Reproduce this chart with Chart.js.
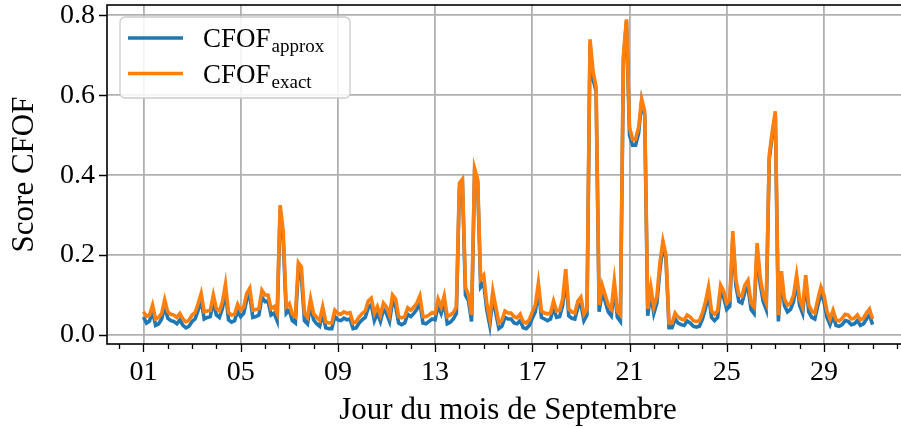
<!DOCTYPE html>
<html>
<head>
<meta charset="utf-8">
<script src="https://cdn.jsdelivr.net/npm/chart.js@4.4.1/dist/chart.umd.min.js"></script>
<style>
  html, body { margin: 0; padding: 0; background: #fff; overflow: hidden; }
  #wrap { position: relative; width: 912px; height: 429px; }
</style>
</head>
<body>
<div id="wrap"><canvas id="cfof-chart" width="912" height="429"></canvas></div>
<script>
// One sample every 3 hours, 1 Sept 00:00 -> 1 Oct 00:00 (x in days since 1 Sept)
const SAMPLES_PER_DAY = 8;

// CFOF exact (orange), one row per day
const cfofExact = [
  0.058, 0.047, 0.05, 0.075, 0.04, 0.044, 0.054, 0.088,
  0.058, 0.052, 0.05, 0.044, 0.054, 0.04, 0.033, 0.037,
  0.05, 0.056, 0.079, 0.104, 0.058, 0.06, 0.062, 0.1,
  0.066, 0.06, 0.083, 0.127, 0.056, 0.05, 0.052, 0.077,
  0.062, 0.07, 0.104, 0.117, 0.062, 0.064, 0.066, 0.112,
  0.1, 0.1, 0.066, 0.071, 0.054, 0.325, 0.26, 0.071,
  0.079, 0.052, 0.046, 0.181, 0.17, 0.054, 0.044, 0.091,
  0.054, 0.044, 0.037, 0.071, 0.033, 0.03, 0.03, 0.062,
  0.054, 0.052, 0.058, 0.054, 0.056, 0.03, 0.033, 0.045,
  0.054, 0.06, 0.085, 0.092, 0.054, 0.071, 0.05, 0.08,
  0.07, 0.05, 0.1, 0.09, 0.046, 0.043, 0.046, 0.068,
  0.062, 0.07, 0.08, 0.098, 0.046, 0.046, 0.05, 0.056,
  0.054, 0.09, 0.07, 0.098, 0.046, 0.05, 0.056, 0.07,
  0.38, 0.39, 0.12, 0.1, 0.05, 0.417, 0.39, 0.14,
  0.15, 0.08, 0.04, 0.11, 0.07, 0.03, 0.037, 0.06,
  0.055, 0.055, 0.046, 0.043, 0.052, 0.033, 0.03, 0.038,
  0.058, 0.075, 0.13, 0.06, 0.055, 0.053, 0.055, 0.085,
  0.06, 0.062, 0.09, 0.165, 0.065, 0.058, 0.055, 0.085,
  0.095, 0.052, 0.065, 0.74, 0.66, 0.62, 0.075, 0.125,
  0.1, 0.075, 0.065, 0.135, 0.06, 0.05, 0.7, 0.79,
  0.52, 0.49, 0.49, 0.52, 0.59, 0.56, 0.065, 0.12,
  0.07, 0.096, 0.18, 0.235, 0.2, 0.03, 0.03, 0.055,
  0.045, 0.04, 0.038, 0.05, 0.045, 0.036, 0.034, 0.036,
  0.055, 0.083, 0.12, 0.06, 0.052, 0.06, 0.125, 0.11,
  0.08, 0.088, 0.26, 0.14, 0.1, 0.097, 0.125, 0.137,
  0.08, 0.07, 0.23, 0.145, 0.1, 0.08, 0.45, 0.51,
  0.56, 0.05, 0.16, 0.09, 0.075, 0.08, 0.1, 0.15,
  0.09, 0.07, 0.15, 0.075, 0.06, 0.055, 0.09, 0.12,
  0.1, 0.06, 0.04, 0.062, 0.038, 0.035, 0.042, 0.052,
  0.05, 0.04, 0.042, 0.05, 0.038, 0.042, 0.055, 0.065,
  0.04
];

// CFOF approx (blue), sits a bit under the exact one
const cfofApprox = [
  0.045, 0.03, 0.035, 0.06, 0.024, 0.028, 0.04, 0.072,
  0.042, 0.036, 0.034, 0.028, 0.038, 0.024, 0.018, 0.022,
  0.034, 0.04, 0.062, 0.088, 0.04, 0.044, 0.046, 0.084,
  0.05, 0.044, 0.066, 0.11, 0.038, 0.032, 0.036, 0.06,
  0.046, 0.054, 0.088, 0.1, 0.044, 0.046, 0.05, 0.095,
  0.084, 0.085, 0.05, 0.055, 0.036, 0.315, 0.24, 0.054,
  0.062, 0.036, 0.03, 0.165, 0.145, 0.036, 0.028, 0.075,
  0.038, 0.028, 0.022, 0.055, 0.018, 0.016, 0.016, 0.046,
  0.038, 0.036, 0.042, 0.038, 0.04, 0.016, 0.018, 0.03,
  0.038, 0.044, 0.068, 0.076, 0.036, 0.055, 0.034, 0.064,
  0.054, 0.034, 0.084, 0.072, 0.03, 0.026, 0.03, 0.052,
  0.046, 0.054, 0.064, 0.082, 0.03, 0.028, 0.034, 0.04,
  0.038, 0.074, 0.054, 0.082, 0.028, 0.032, 0.04, 0.054,
  0.365, 0.38, 0.1, 0.085, 0.034, 0.405, 0.385, 0.12,
  0.13, 0.064, 0.024, 0.094, 0.054, 0.016, 0.022, 0.044,
  0.04, 0.04, 0.03, 0.028, 0.036, 0.018, 0.016, 0.024,
  0.042, 0.058, 0.114, 0.044, 0.04, 0.036, 0.04, 0.068,
  0.044, 0.046, 0.074, 0.148, 0.048, 0.042, 0.04, 0.068,
  0.078, 0.036, 0.05, 0.73, 0.64, 0.61, 0.058, 0.108,
  0.084, 0.058, 0.048, 0.118, 0.044, 0.034, 0.69, 0.785,
  0.5, 0.475, 0.475, 0.505, 0.585, 0.55, 0.048, 0.104,
  0.054, 0.08, 0.162, 0.225, 0.19, 0.018, 0.018, 0.04,
  0.03, 0.026, 0.024, 0.035, 0.03, 0.022, 0.02, 0.022,
  0.04, 0.066, 0.104, 0.044, 0.036, 0.044, 0.108, 0.094,
  0.064, 0.072, 0.245, 0.124, 0.084, 0.08, 0.108, 0.12,
  0.064, 0.054, 0.215, 0.128, 0.084, 0.064, 0.44, 0.5,
  0.55, 0.034, 0.144, 0.074, 0.058, 0.064, 0.084, 0.134,
  0.074, 0.054, 0.134, 0.058, 0.044, 0.04, 0.074, 0.104,
  0.084, 0.044, 0.026, 0.048, 0.024, 0.022, 0.026, 0.036,
  0.034, 0.026, 0.028, 0.036, 0.024, 0.028, 0.04, 0.05,
  0.026
];

// legend text: main part + subscript
const seriesNames = ["CFOF", "CFOF"];
const seriesSubs = ["approx", "exact"];
const seriesColors = ["#1f77b4", "#ff7f0e"];

// x axis: labelled every 4 days, minor tick each day
const majorDays = [0, 4, 8, 12, 16, 20, 24, 28];
const xTickLabels = ["01", "05", "09", "13", "17", "21", "25", "29"];
const yTicks = [0.0, 0.2, 0.4, 0.6, 0.8];

const SERIF = "'Liberation Serif', 'DejaVu Serif', serif";

function toPoints(values) {
    return values.map((v, i) => ({ x: i / SAMPLES_PER_DAY, y: v }));
}

// spines, tick marks (major/minor) and the legend box
const framePlugin = {
    id: "frame",
    afterDatasetsDraw(chart) {
        const { ctx, chartArea: a, scales: { x, y } } = chart;
        ctx.save();
        ctx.strokeStyle = "#000";
        ctx.lineWidth = 1.6;
        ctx.strokeRect(a.left, a.top, a.right - a.left, a.bottom - a.top);

        ctx.lineWidth = 1.3;
        ctx.beginPath();
        for (let d = -1; d <= 31; d++) {
            const px = Math.round(x.getPixelForValue(d)) + 0.5;
            const len = majorDays.includes(d) ? 8 : 5;
            ctx.moveTo(px, a.bottom);
            ctx.lineTo(px, a.bottom + len);
        }
        yTicks.forEach(v => {
            const py = Math.round(y.getPixelForValue(v)) + 0.5;
            ctx.moveTo(a.left, py);
            ctx.lineTo(a.left - 8, py);
        });
        ctx.stroke();

        // legend
        const bx = a.left + 13, by = a.top + 12, bw = 230, bh = 81;
        ctx.fillStyle = "rgba(255,255,255,0.85)";
        ctx.strokeStyle = "#cccccc";
        ctx.lineWidth = 1.3;
        ctx.beginPath();
        ctx.roundRect(bx, by, bw, bh, 5);
        ctx.fill();
        ctx.stroke();

        seriesNames.forEach((name, i) => {
            const ly = by + 21 + i * 35.5;
            ctx.strokeStyle = seriesColors[i];
            ctx.lineWidth = 3.5;
            ctx.beginPath();
            ctx.moveTo(bx + 8, ly);
            ctx.lineTo(bx + 63, ly);
            ctx.stroke();

            ctx.fillStyle = "#000";
            ctx.textBaseline = "alphabetic";
            ctx.font = "27px " + SERIF;
            ctx.fillText(name, bx + 83, ly + 9);
            const w = ctx.measureText(name).width;
            ctx.font = "19px " + SERIF;
            ctx.fillText(seriesSubs[i], bx + 84 + w, ly + 14);
        });
        ctx.restore();
    }
};

const ctx = document.getElementById("cfof-chart").getContext("2d");
const chart = new Chart(ctx, {
    type: "line",
    data: {
        datasets: [
            {
                label: seriesNames[0] + "_" + seriesSubs[0],
                data: toPoints(cfofApprox),
                borderColor: seriesColors[0],
                borderWidth: 3.6,
                pointRadius: 0,
                tension: 0,
                order: 1
            },
            {
                label: seriesNames[1] + "_" + seriesSubs[1],
                data: toPoints(cfofExact),
                borderColor: seriesColors[1],
                borderWidth: 3.6,
                pointRadius: 0,
                tension: 0,
                order: 0
            }
        ]
    },
    options: {
        responsive: false,
        animation: false,
        devicePixelRatio: 1,
        layout: { padding: { top: 5, right: 3, left: 0, bottom: 0 } },
        plugins: {
            legend: { display: false },
            tooltip: { enabled: false }
        },
        scales: {
            x: {
                type: "linear",
                min: -1.5,
                max: 31.5,
                afterBuildTicks: (scale) => {
                    scale.ticks = majorDays.map(d => ({ value: d }));
                },
                afterFit: (scale) => {
                    scale.height = 85;
                    scale.paddingLeft = 0;
                    scale.paddingRight = 0;
                },
                border: { display: false },
                grid: {
                    color: "#b0b0b0",
                    lineWidth: 1.8,
                    drawTicks: false
                },
                ticks: {
                    autoSkip: false,
                    maxRotation: 0,
                    padding: 12,
                    color: "#000",
                    font: { family: SERIF, size: 28 },
                    callback: (value) => xTickLabels[majorDays.indexOf(value)]
                },
                title: {
                    display: true,
                    text: "Jour du mois de Septembre",
                    color: "#000",
                    font: { family: SERIF, size: 31 },
                    padding: { top: 0, bottom: 0 }
                }
            },
            y: {
                min: -0.0225,
                max: 0.826,
                afterBuildTicks: (scale) => {
                    scale.ticks = yTicks.map(v => ({ value: v }));
                },
                afterFit: (scale) => {
                    scale.width = 107;
                    scale.paddingTop = 0;
                    scale.paddingBottom = 0;
                },
                border: { display: false },
                grid: {
                    color: "#b0b0b0",
                    lineWidth: 1.8,
                    drawTicks: false
                },
                ticks: {
                    padding: 12,
                    color: "#000",
                    font: { family: SERIF, size: 28 },
                    callback: (value) => value.toFixed(1)
                },
                title: {
                    display: true,
                    text: "Score CFOF",
                    color: "#000",
                    font: { family: SERIF, size: 31 },
                    padding: { top: 6, bottom: 0 }
                }
            }
        }
    },
    plugins: [framePlugin]
});
</script>
</body>
</html>
